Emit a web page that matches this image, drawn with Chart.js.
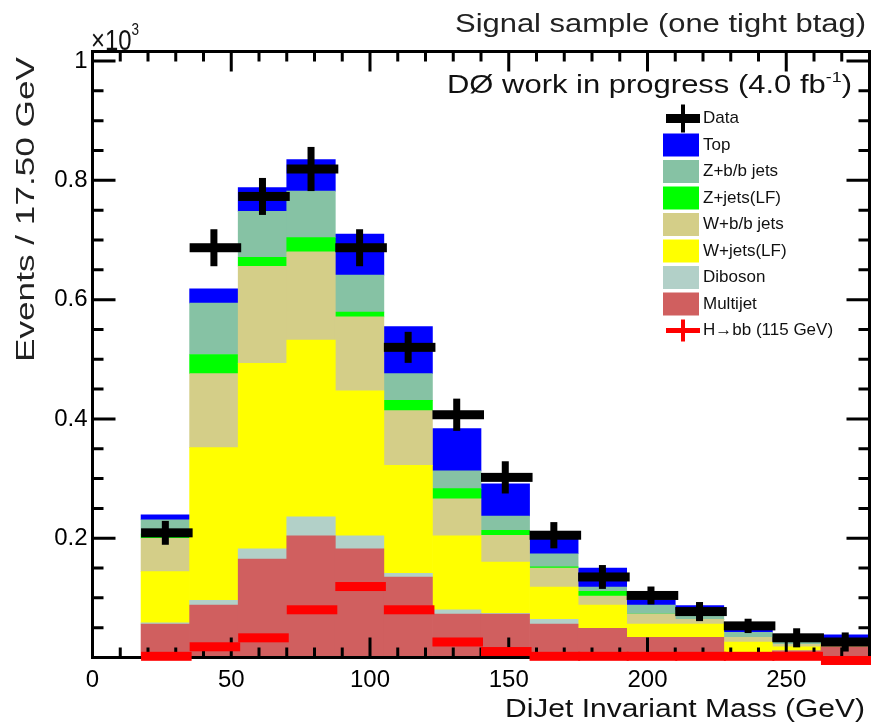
<!DOCTYPE html>
<html>
<head>
<meta charset="utf-8">
<script src="https://cdn.jsdelivr.net/npm/chart.js@4.4.1/dist/chart.umd.min.js"></script>
<style>
  html, body { margin: 0; padding: 0; background: #fff; }
</style>
</head>
<body>
<canvas id="massChart" width="871" height="726"></canvas>
<script>
// bins of 17.5 GeV from 17.5 to 280 GeV, values in units of 10^3 events
const binWidth = 17.5;
const binCenters = [26.25, 43.75, 61.25, 78.75, 96.25, 113.75, 131.25, 148.75, 166.25, 183.75, 201.25, 218.75, 236.25, 253.75, 271.25];

const multijet = [0.056, 0.088, 0.165, 0.204, 0.182, 0.135, 0.073, 0.073, 0.056, 0.049, 0.034, 0.034, 0.008, 0.011, 0.018];
const diboson  = [0.002, 0.008, 0.017, 0.032, 0.022, 0.006, 0.007, 0.001, 0.008, 0.000, 0.000, 0.000, 0.000, 0.000, 0.000];
const wLight   = [0.086, 0.256, 0.311, 0.296, 0.243, 0.181, 0.124, 0.086, 0.054, 0.039, 0.022, 0.022, 0.018, 0.007, 0.003];
const wHeavy   = [0.056, 0.124, 0.163, 0.148, 0.124, 0.092, 0.062, 0.045, 0.032, 0.015, 0.017, 0.008, 0.008, 0.004, 0.003];
const zLight   = [0.007, 0.032, 0.015, 0.024, 0.008, 0.017, 0.017, 0.008, 0.002, 0.008, 0.000, 0.000, 0.000, 0.000, 0.000];
const zHeavy   = [0.024, 0.086, 0.077, 0.078, 0.062, 0.045, 0.030, 0.024, 0.022, 0.007, 0.015, 0.015, 0.008, 0.004, 0.004];
const topQuark = [0.008, 0.024, 0.040, 0.053, 0.069, 0.079, 0.071, 0.054, 0.024, 0.032, 0.008, 0.008, 0.007, 0.008, 0.010];

const dataCounts = [0.209, 0.687, 0.773, 0.819, 0.687, 0.520, 0.407, 0.302, 0.205, 0.135, 0.104, 0.077, 0.053, 0.033, 0.026];
const dataErrors = [0.020, 0.031, 0.031, 0.037, 0.031, 0.026, 0.027, 0.027, 0.022, 0.020, 0.015, 0.016, 0.012, 0.016, 0.016];
const higgsSignal = [0.002, 0.018, 0.033, 0.080, 0.119, 0.080, 0.026, 0.010, 0.002, 0.002, 0.002, 0.002, 0.002, 0.002, -0.005];

const xTickValues = [0, 50, 100, 150, 200, 250];
const yTickValues = [0.2, 0.4, 0.6, 0.8, 1];

const FONT = '"Liberation Sans", Arial, sans-serif';

// stacking order, bottom first
const stackDefs = [
  { label: 'Multijet', values: multijet, color: '#d05f5f' },
  { label: 'Diboson', values: diboson, color: '#b2d0c8' },
  { label: 'W+jets(LF)', values: wLight, color: '#ffff00' },
  { label: 'W+b/b jets', values: wHeavy, color: '#d4ce88' },
  { label: 'Z+jets(LF)', values: zLight, color: '#00ff00' },
  { label: 'Z+b/b jets', values: zHeavy, color: '#86c2a4' },
  { label: 'Top', values: topQuark, color: '#0000ff' }
];

// draws text squeezed/stretched to a given width, parts may be superscripts
function drawRun(ctx, parts, xLeft, baseline, width) {
  let natural = 0;
  parts.forEach(p => {
    ctx.font = p.size + 'px ' + FONT;
    p.w = ctx.measureText(p.text).width;
    natural += p.w;
  });
  const sx = width / natural;
  ctx.save();
  ctx.translate(xLeft, baseline);
  ctx.scale(sx, 1);
  ctx.textAlign = 'left';
  ctx.textBaseline = 'alphabetic';
  let cx = 0;
  parts.forEach(p => {
    ctx.font = p.size + 'px ' + FONT;
    ctx.fillText(p.text, cx, p.dy || 0);
    cx += p.w;
  });
  ctx.restore();
}

const decorPlugin = {
  id: 'histDecor',
  afterDatasetsDraw(chart) {
    const { ctx, chartArea: a, scales: { x, y } } = chart;
    ctx.save();

    // frame with ROOT style ticks on all four sides
    ctx.strokeStyle = '#000';
    ctx.lineWidth = 3;
    ctx.strokeRect(a.left, a.top, a.right - a.left, a.bottom - a.top);
    ctx.beginPath();
    for (let v = 10; v < x.max; v += 10) {
      const px = x.getPixelForValue(v);
      const len = v % 50 === 0 ? 20 : 10;
      ctx.moveTo(px, a.bottom); ctx.lineTo(px, a.bottom - len);
      ctx.moveTo(px, a.top); ctx.lineTo(px, a.top + len);
    }
    for (let k = 1; k * 0.05 < y.max; k++) {
      const py = y.getPixelForValue(k * 0.05);
      const len = k % 4 === 0 ? 23 : 11;
      ctx.moveTo(a.left, py); ctx.lineTo(a.left + len, py);
      ctx.moveTo(a.right, py); ctx.lineTo(a.right - len, py);
    }
    ctx.stroke();

    // H->bb signal, drawn on top of the axis like the original
    ctx.fillStyle = '#ff0000';
    higgsSignal.forEach((v, i) => {
      const x0 = x.getPixelForValue(binCenters[i] - binWidth / 2);
      const x1 = x.getPixelForValue(binCenters[i] + binWidth / 2);
      const py = y.getPixelForValue(v);
      ctx.fillRect(x0, py - 4.5, x1 - x0 + 2, 9);
    });

    // data points with error bars
    ctx.fillStyle = '#000';
    dataCounts.forEach((v, i) => {
      const x0 = x.getPixelForValue(binCenters[i] - binWidth / 2);
      const x1 = x.getPixelForValue(binCenters[i] + binWidth / 2);
      const xc = x.getPixelForValue(binCenters[i]);
      const py = y.getPixelForValue(v);
      const hi = y.getPixelForValue(v + dataErrors[i]);
      const lo = y.getPixelForValue(v - dataErrors[i]);
      ctx.fillRect(x0, py - 4.5, x1 - x0 + 3, 9);
      ctx.fillRect(xc - 3.5, hi, 7, lo - hi);
    });
    ctx.restore();
  },
  afterDraw(chart) {
    const { ctx } = chart;
    ctx.save();
    ctx.fillStyle = '#222';
    drawRun(ctx, [{ text: 'Signal sample (one tight btag)', size: 26 }], 455, 32, 411);
    ctx.fillStyle = '#111';
    drawRun(ctx, [
      { text: 'DØ work in progress (4.0 fb', size: 26 },
      { text: '-1', size: 15, dy: -11 },
      { text: ')', size: 26 }
    ], 447, 93, 405);
    drawRun(ctx, [{ text: '×10', size: 30 }, { text: '3', size: 17, dy: -15 }], 91, 50, 48);
    drawRun(ctx, [{ text: 'DiJet Invariant Mass (GeV)', size: 26 }], 505, 717, 360);

    ctx.save();
    ctx.fillStyle = '#222';
    ctx.translate(34, 362);
    ctx.rotate(-Math.PI / 2);
    drawRun(ctx, [{ text: 'Events / 17.50 GeV', size: 25 }], 0, 0, 305);
    ctx.restore();

    // legend
    const lx = 663, tx = 703, pitch = 26.5;
    let ly = 118.5;
    ctx.fillStyle = '#000';
    ctx.fillRect(666, ly - 4.5, 34, 9);
    ctx.fillRect(681, ly - 14, 4, 28);
    ctx.font = '17px ' + FONT;
    ctx.textBaseline = 'middle';
    ctx.fillStyle = '#111';
    ctx.fillText('Data', tx, ly);
    stackDefs.slice().reverse().forEach(s => {
      ly += pitch;
      ctx.fillStyle = s.color;
      ctx.fillRect(lx, ly - 11.5, 36, 23);
      ctx.fillStyle = '#111';
      ctx.fillText(s.label, tx, ly);
    });
    ly += pitch;
    ctx.fillStyle = '#ff0000';
    ctx.fillRect(666, ly - 2.5, 34, 5);
    ctx.fillRect(681, ly - 11, 4, 22);
    ctx.fillStyle = '#111';
    ctx.fillText('H→bb (115 GeV)', tx, ly);
    ctx.restore();
  }
};

new Chart(document.getElementById('massChart'), {
  type: 'bar',
  data: {
    datasets: stackDefs.map(s => ({
      label: s.label,
      data: binCenters.map((c, i) => ({ x: c, y: s.values[i] })),
      backgroundColor: s.color,
      borderWidth: 0,
      barPercentage: 1,
      categoryPercentage: 1
    }))
  },
  options: {
    responsive: false,
    animation: false,
    devicePixelRatio: 1,
    layout: { padding: { top: 51.5, right: 1.5, left: 0, bottom: 0 } },
    plugins: { legend: { display: false }, tooltip: { enabled: false } },
    scales: {
      x: {
        type: 'linear',
        stacked: true,
        offset: false,
        min: 0,
        max: 280,
        grid: { display: false, drawTicks: false },
        border: { display: false },
        afterFit: s => { s.height = 68.5; },
        afterBuildTicks: s => { s.ticks = xTickValues.map(v => ({ value: v })); },
        ticks: { color: '#000', font: { family: FONT, size: 24 }, padding: 8, maxRotation: 0,
          callback: v => String(v) }
      },
      y: {
        stacked: true,
        min: 0,
        max: 1.016,
        grid: { display: false, drawTicks: false },
        border: { display: false },
        afterFit: s => { s.width = 92.5; },
        afterBuildTicks: s => { s.ticks = yTickValues.map(v => ({ value: v })); },
        ticks: { color: '#000', font: { family: FONT, size: 24 }, padding: 5,
          callback: v => String(+v.toFixed(1)) }
      }
    }
  },
  plugins: [decorPlugin]
});
</script>
</body>
</html>
